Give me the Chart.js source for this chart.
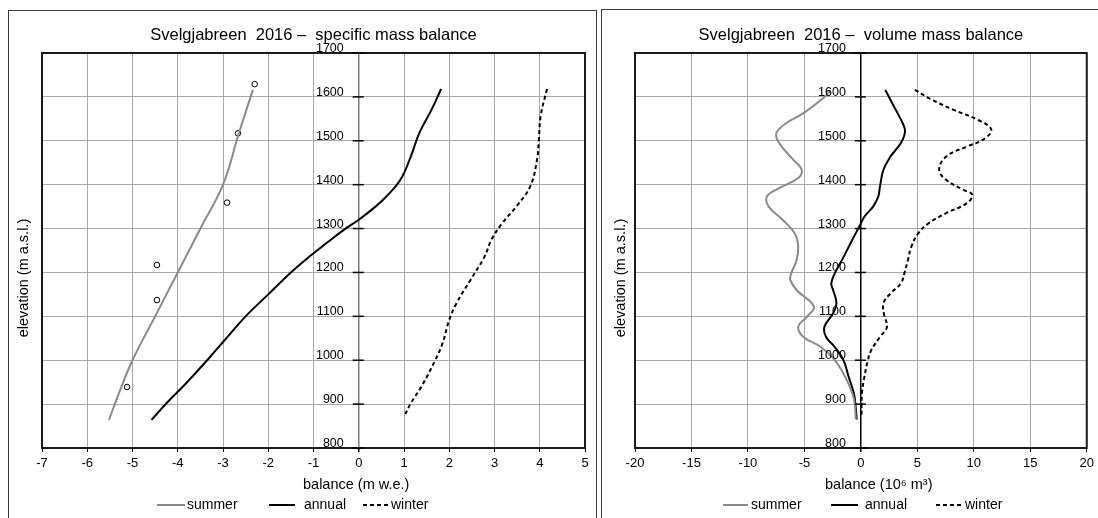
<!DOCTYPE html>
<html><head><meta charset="utf-8">
<script src="https://cdn.jsdelivr.net/npm/chart.js@4.4.1/dist/chart.umd.min.js"></script>
<style>
html,body{margin:0;padding:0;background:#fff;}
body{width:1098px;height:518px;position:relative;overflow:hidden;}
.panel{position:absolute;box-sizing:border-box;border:1.5px solid #3a3a3a;}
#p1{left:8px;top:10px;width:589px;height:540px;}
#p2{left:601px;top:9px;width:540px;height:540px;}
canvas{position:absolute;left:0;top:0;}
</style></head><body>
<div class="panel" id="p1"></div><div class="panel" id="p2"></div>
<canvas id="c1" width="1098" height="518"></canvas>
<canvas id="c2" width="1098" height="518"></canvas>
<script>
// ---------- data ----------
const yTicks = [800, 900, 1000, 1100, 1200, 1300, 1400, 1500, 1600, 1700];
const seriesNames = ['summer', 'annual', 'winter'];

// specific mass balance (m w.e.)
const specSummerElev = [1616, 1517, 1400, 1300, 1200, 1100, 1000, 930, 864];
const specSummerBal  = [-2.34, -2.65, -3.0, -3.5, -4.0, -4.5, -5.0, -5.28, -5.52];
const specSummerObsElev = [1629, 1517, 1359, 1217, 1137, 939];
const specSummerObsBal  = [-2.30, -2.67, -2.91, -4.46, -4.46, -5.12];
const specAnnualElev = [1618, 1571, 1518, 1464, 1411, 1373, 1350, 1320, 1297, 1267, 1232, 1200, 1150, 1100, 1046, 1000, 947, 902, 864];
const specAnnualBal  = [1.82, 1.61, 1.34, 1.15, 0.92, 0.61, 0.37, 0.0, -0.33, -0.71, -1.14, -1.5, -2.0, -2.5, -2.96, -3.35, -3.82, -4.25, -4.58];
const specWinterElev = [1618, 1556, 1502, 1457, 1396, 1350, 1312, 1274, 1236, 1183, 1130, 1092, 1038, 1000, 939, 902, 871];
const specWinterBal  = [4.16, 4.02, 3.98, 3.94, 3.79, 3.48, 3.17, 2.93, 2.78, 2.47, 2.16, 2.00, 1.85, 1.69, 1.38, 1.15, 1.0];

// volume mass balance (10^6 m^3)
const volSummerElev = [1614, 1598, 1563, 1540, 1517, 1495, 1457, 1434, 1415, 1392, 1373, 1350, 1320, 1289, 1259, 1228, 1198, 1183, 1160, 1122, 1099, 1076, 1053, 1030, 1000, 962, 924, 902, 866];
const volSummerBal  = [-2.7, -3.3, -5.08, -6.62, -7.49, -7.24, -6.0, -5.24, -5.55, -7.24, -8.32, -8.16, -6.93, -5.85, -5.55, -5.70, -6.16, -6.25, -5.70, -4.16, -4.78, -5.55, -5.08, -3.54, -2.31, -1.39, -0.75, -0.55, -0.45];
const volAnnualElev = [1616, 1578, 1540, 1521, 1495, 1464, 1434, 1396, 1373, 1350, 1327, 1304, 1274, 1232, 1198, 1175, 1160, 1130, 1107, 1076, 1053, 1030, 1000, 962, 924, 894, 865];
const volAnnualBal  = [2.16, 2.93, 3.70, 3.91, 3.54, 2.62, 2.0, 1.69, 1.54, 1.08, 0.31, -0.15, -0.77, -1.6, -2.31, -2.62, -2.46, -2.16, -2.46, -3.23, -3.08, -2.31, -1.54, -1.08, -0.62, -0.46, -0.37];
const volWinterElev = [1616, 1593, 1571, 1548, 1525, 1502, 1487, 1464, 1434, 1411, 1388, 1377, 1358, 1335, 1312, 1289, 1259, 1228, 1198, 1175, 1152, 1130, 1103, 1076, 1053, 1023, 1000, 962, 924, 894, 871];
const volWinterBal  = [4.78, 6.32, 8.16, 10.32, 11.55, 10.78, 9.40, 7.55, 6.93, 7.55, 9.09, 9.86, 9.40, 7.55, 6.0, 5.08, 4.47, 4.16, 3.85, 3.54, 2.62, 2.0, 2.06, 2.31, 1.69, 0.92, 0.62, 0.31, 0.09, 0.06, 0.06];

const titleSpec = 'Svelgjabreen  2016 \u2013  specific mass balance';
const titleVol  = 'Svelgjabreen  2016 \u2013  volume mass balance';
const yAxisTitle = 'elevation (m a.s.l.)';
const xTitleSpec = 'balance (m w.e.)';
const xTitleVol  = 'balance (10\u2076 m\u00b3)';

// ---------- helpers ----------
const FONT = '"Liberation Sans", Arial, Helvetica, sans-serif';
const GRAY = '#8a8a8a';
const pts = (xs, ys) => ys.map((e, i) => ({x: xs[i], y: e}));

function lineDs(label, vals, elevs, color, dash) {
  return {label, data: pts(vals, elevs), showLine: true, borderColor: color, backgroundColor: color,
    borderWidth: 2, borderDash: dash || [], pointRadius: 0, tension: 0.4, fill: false};
}

function decoPlugin(o) {
  return {
    id: 'deco',
    afterDraw(chart) {
      const {ctx, chartArea: a, scales: {x, y}} = chart;
      ctx.save();
      // frame
      ctx.strokeStyle = '#1a1a1a'; ctx.lineWidth = 2; ctx.setLineDash([]);
      ctx.strokeRect(a.left, a.top, a.right - a.left, a.bottom - a.top);
      // y-axis tick marks and labels at x = 0
      const x0 = x.getPixelForValue(0);
      ctx.lineWidth = 1.5; ctx.strokeStyle = '#000';
      yTicks.forEach(v => {
        const py = y.getPixelForValue(v);
        ctx.beginPath(); ctx.moveTo(x0 - 6, py); ctx.lineTo(x0 + 5, py); ctx.stroke();
      });
      ctx.fillStyle = '#000';
      ctx.font = '12.5px ' + FONT; ctx.textAlign = 'right'; ctx.textBaseline = 'alphabetic';
      yTicks.forEach(v => ctx.fillText(String(v), x0 - 15, y.getPixelForValue(v) - 1));
      // title
      ctx.font = '16.5px ' + FONT; ctx.textAlign = 'center'; ctx.textBaseline = 'middle';
      ctx.fillText(o.title, (a.left + a.right) / 2, 35);
      // x title
      ctx.font = '14.5px ' + FONT; ctx.textAlign = 'left';
      ctx.fillText(o.xTitle, o.xTitleX, 485);
      // y title
      ctx.save(); ctx.translate(o.yTitleX, 278); ctx.rotate(-Math.PI / 2);
      ctx.textAlign = 'center'; ctx.fillText(yAxisTitle, 0, 0); ctx.restore();
      // legend
      ctx.font = '14px ' + FONT; ctx.textAlign = 'left'; ctx.textBaseline = 'middle';
      const ly = 505;
      const styles = [{c: GRAY, d: []}, {c: '#000', d: []}, {c: '#000', d: [4, 3]}];
      o.legend.forEach((L, i) => {
        ctx.strokeStyle = styles[i].c; ctx.lineWidth = 2; ctx.setLineDash(styles[i].d);
        ctx.beginPath(); ctx.moveTo(L[0], ly); ctx.lineTo(L[1], ly); ctx.stroke();
        ctx.setLineDash([]); ctx.fillStyle = '#000';
        ctx.fillText(seriesNames[i], L[2], ly);
      });
      ctx.restore();
    }
  };
}

function makeChart(id, datasets, xr, pad, o) {
  return new Chart(document.getElementById(id), {
    type: 'scatter',
    data: {datasets},
    options: {
      responsive: false, animation: false, devicePixelRatio: 1,
      layout: {padding: pad},
      plugins: {legend: {display: false}, title: {display: false}, tooltip: {enabled: false}},
      scales: {
        x: {type: 'linear', min: xr[0], max: xr[1],
          afterFit(s) { s.height = 30; },
          ticks: {stepSize: xr[2], color: '#000', font: {family: FONT, size: 13}, padding: 4},
          grid: {color: c => (c.tick && c.tick.value === 0 ? o.zeroColor : '#a8a8a8'), lineWidth: c => (c.tick && c.tick.value === 0 ? 1.5 : 1),
                 tickColor: '#000', tickLength: 4, drawTicks: true},
          border: {display: false}},
        y: {type: 'linear', min: 800, max: 1700,
          afterFit(s) { s.width = 0; },
          ticks: {stepSize: 100, display: false},
          grid: {color: '#a8a8a8', drawTicks: false},
          border: {display: false}}
      }
    },
    plugins: [decoPlugin(o)]
  });
}

makeChart('c1', [
  lineDs('summer', specSummerBal, specSummerElev, GRAY),
  lineDs('annual', specAnnualBal, specAnnualElev, '#000'),
  lineDs('winter', specWinterBal, specWinterElev, '#000', [4, 3]),
  {label: 'summer points', data: pts(specSummerObsBal, specSummerObsElev), showLine: false,
   pointRadius: 2.8, pointBorderWidth: 1, pointBorderColor: '#000', pointBackgroundColor: '#fff'}
], [-7, 5, 1], {left: 42, right: 1098 - 585, top: 53, bottom: 518 - 448 - 30},
  {title: titleSpec, xTitle: xTitleSpec, xTitleX: 303, yTitleX: 24, zeroColor: '#7a7a7a',
   legend: [[157, 185, 187], [269, 295, 304], [363, 389, 391]]});

makeChart('c2', [
  lineDs('summer', volSummerBal, volSummerElev, GRAY),
  lineDs('annual', volAnnualBal, volAnnualElev, '#000'),
  lineDs('winter', volWinterBal, volWinterElev, '#000', [4, 3])
], [-20, 20, 5], {left: 635, right: 1098 - 1090, top: 53, bottom: 518 - 448 - 30},
  {title: titleVol, xTitle: xTitleVol, xTitleX: 825, yTitleX: 621, zeroColor: '#000',
   legend: [[723, 748, 751], [831, 858, 865], [936, 962, 965]]});
</script>
</body></html>
